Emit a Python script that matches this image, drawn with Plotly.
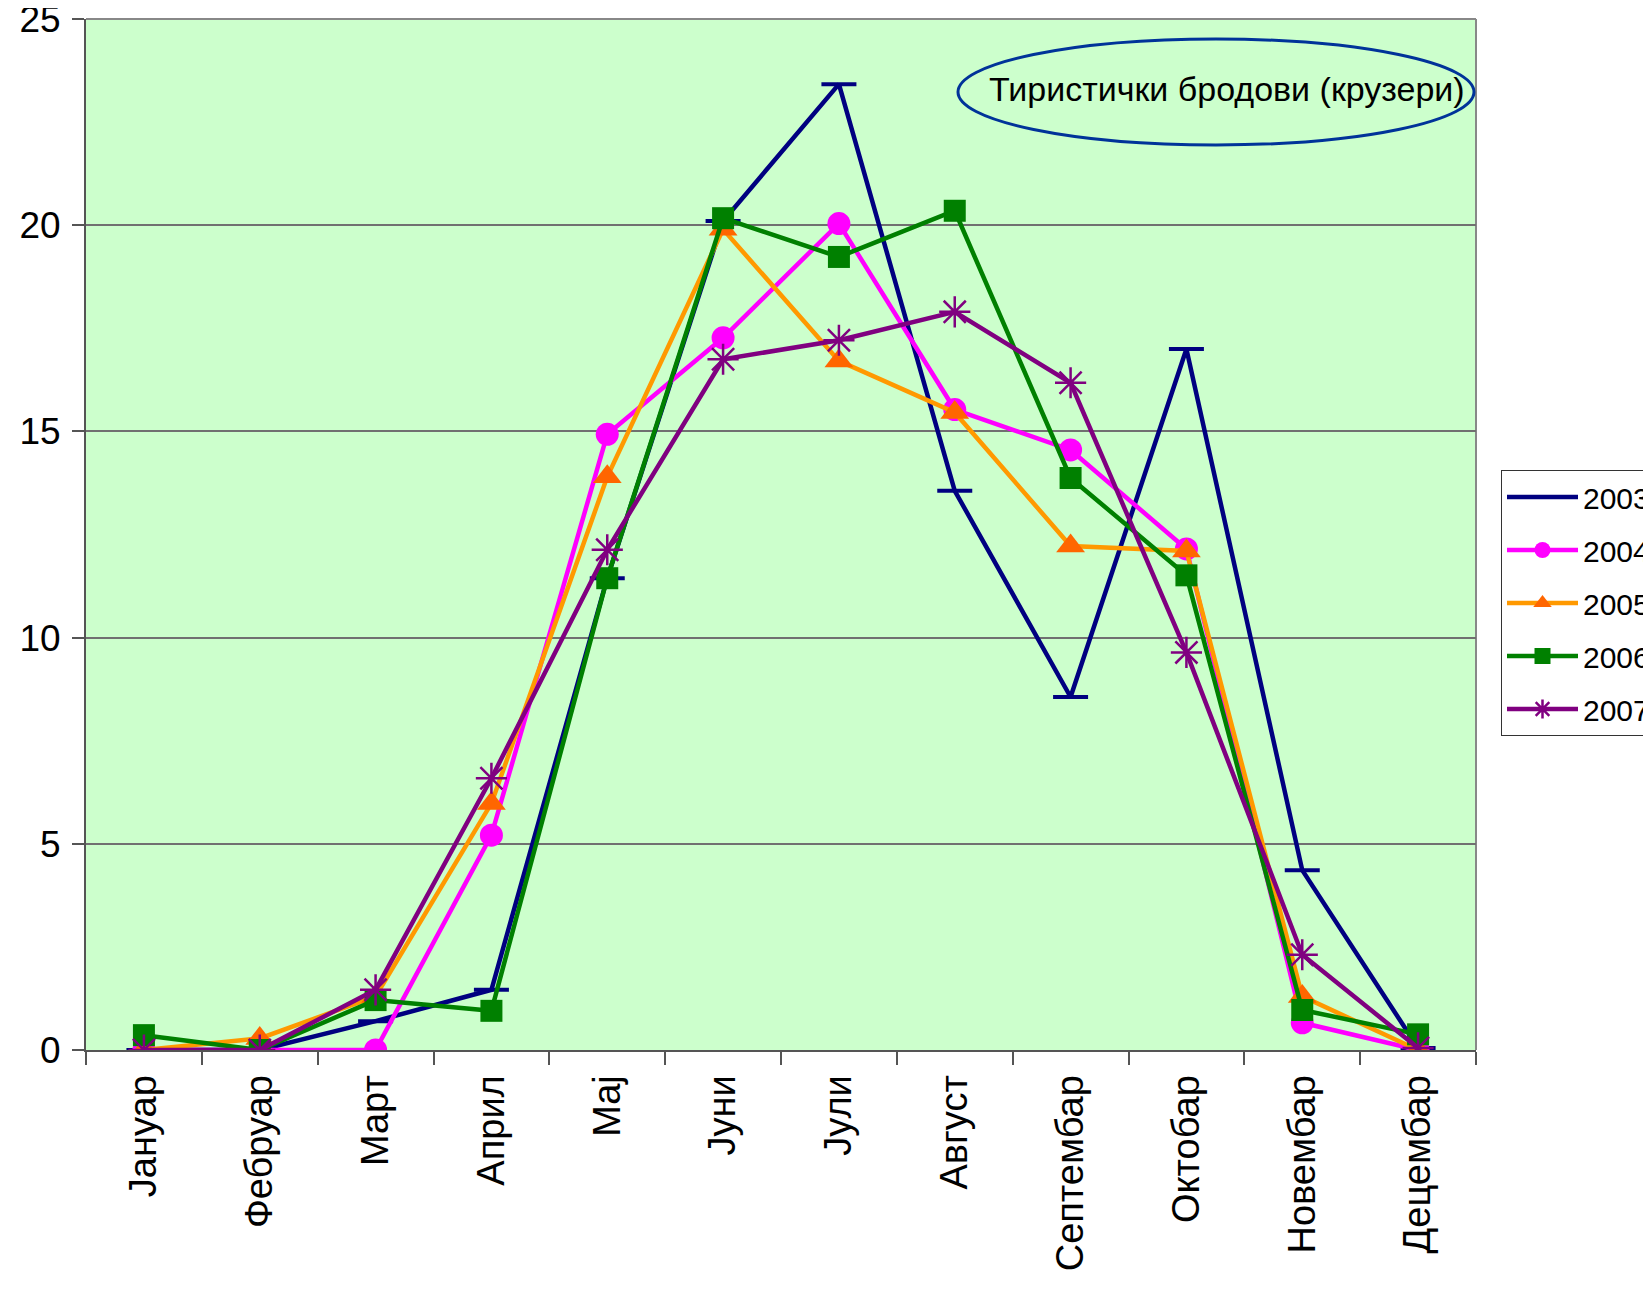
import plotly.graph_objects as go

months = ["Јануар", "Фебруар", "Март", "Април", "Мај", "Јуни", "Јули",
          "Август", "Септембар", "Октобар", "Новембар", "Децембар"]

y2003 = [0, 0, 0.7, 1.46, 11.44, 20.1, 23.42, 13.56, 8.56, 17.0, 4.36, 0.05]
y2004 = [0, 0, 0, 5.21, 14.93, 17.27, 20.04, 15.53, 14.55, 12.15, 0.66, 0]
y2005 = [0, 0.28, 1.3, 5.98, 13.9, 19.9, 16.71, 15.46, 12.22, 12.1, 1.3, 0]
y2006 = [0.36, 0, 1.21, 0.95, 11.44, 20.17, 19.23, 20.35, 13.87, 11.51, 0.97, 0.38]
y2007 = [0, 0, 1.46, 6.59, 12.13, 16.75, 17.21, 17.9, 16.18, 9.64, 2.31, 0.05]

series_names = ["2003.", "2004.", "2005.", "2006.", "2007."]
annotation_text = "Тиристички бродови (крузери)"

FONT = "Liberation Sans, Arial, sans-serif"

styles = [
    dict(line=dict(color="#000080", width=4.5),
         marker=dict(symbol="line-ew", size=25, color="#000080",
                     line=dict(color="#000080", width=4))),
    dict(line=dict(color="#FF00FF", width=4.5),
         marker=dict(symbol="circle", size=23, color="#FF00FF",
                     line=dict(width=0))),
    dict(line=dict(color="#FF9900", width=4.5),
         marker=dict(symbol="triangle-up", size=25, color="#FF6600",
                     line=dict(width=0))),
    dict(line=dict(color="#008000", width=4.5),
         marker=dict(symbol="square", size=22, color="#008000",
                     line=dict(width=0))),
    dict(line=dict(color="#800080", width=4.5),
         marker=dict(symbol="asterisk-open", size=26, color="#800080",
                     line=dict(color="#800080", width=2.5))),
]

fig = go.Figure()
for name, ys, st in zip(series_names, [y2003, y2004, y2005, y2006, y2007], styles):
    fig.add_trace(go.Scatter(
        x=months, y=ys, name=name, mode="lines+markers",
        line=st["line"], marker=st["marker"], legendgroup=name,
    ))

# page body has an 8px default margin: compensate so the plot sits where the reference has it
PX0, PX1, PY0, PY1 = 86, 1476, 19, 1050   # plot area in screen px
PW, PH = PX1 - PX0, PY1 - PY0

fig.update_layout(
    width=1643, height=1288,
    margin=dict(l=PX0 - 8, r=1651 - PX1, t=PY0 - 8, b=1296 - PY1, autoexpand=False),
    paper_bgcolor="white",
    plot_bgcolor="#CCFFCC",
    font=dict(family=FONT, color="black", size=30),
    showlegend=True,
    legend=dict(
        x=(1501 - PX0) / PW, xanchor="left",
        y=(PY1 - 470) / PH, yanchor="top",
        bgcolor="white", bordercolor="#333333", borderwidth=1,
        font=dict(family=FONT, size=30, color="black"),
        tracegroupgap=11, itemwidth=71,
    ),
    xaxis=dict(
        type="category", range=[-0.5, 11.5],
        tickangle=-90, tickson="boundaries",
        ticks="outside", ticklen=13, tickcolor="#555555", tickwidth=2,
        showline=True, linecolor="#555555", linewidth=2,
        showgrid=False, mirror=False, ticklabelstandoff=8,
        tickfont=dict(family=FONT, size=38, color="black"),
    ),
    yaxis=dict(
        range=[0, 25], tick0=0, dtick=5,
        ticks="outside", ticklen=12, tickcolor="#555555", tickwidth=2,
        showline=True, linecolor="#555555", linewidth=2,
        showgrid=True, gridcolor="#707070", gridwidth=1.5,
        zeroline=False, ticklabelstandoff=4, ticklabeloverflow="allow",
        tickfont=dict(family=FONT, size=37, color="black"),
    ),
)

# top and right plot frame
fig.add_shape(type="line", xref="paper", yref="paper", x0=0, x1=1, y0=1, y1=1,
              line=dict(color="#888888", width=2), layer="below")
fig.add_shape(type="line", xref="paper", yref="paper", x0=1, x1=1, y0=0, y1=1,
              line=dict(color="#888888", width=2), layer="below")

# ellipse label
fig.add_shape(type="circle", xref="paper", yref="paper",
              x0=(958 - PX0) / PW, x1=(1474 - PX0) / PW,
              y0=(PY1 - 145) / PH, y1=(PY1 - 39) / PH,
              line=dict(color="#003399", width=3), fillcolor="rgba(0,0,0,0)")
fig.add_annotation(xref="paper", yref="paper",
                   x=(1227 - PX0) / PW, y=(PY1 - 89) / PH,
                   xanchor="center", yanchor="middle",
                   text=annotation_text, showarrow=False,
                   font=dict(family=FONT, size=34, color="black"))

fig.write_html("out.html")
